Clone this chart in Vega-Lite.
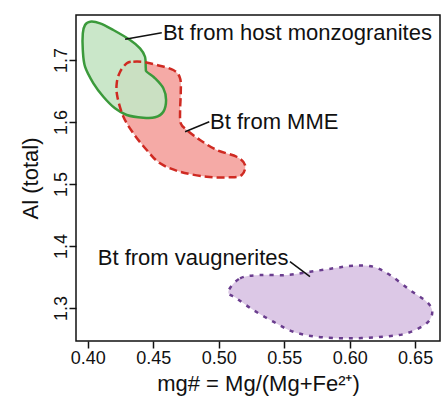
{
  "$schema": "https://vega.github.io/schema/vega-lite/v6.json",
  "width": 364,
  "height": 326,
  "autosize": "none",
  "padding": {"left": 76, "top": 15, "right": 8, "bottom": 62},
  "config": {
    "font": "Liberation Sans",
    "view": {"stroke": "#111", "strokeWidth": 1.5},
    "axis": {"grid": false, "domain": false, "tickColor": "#111", "tickWidth": 1.5, "tickSize": 7, "labelColor": "#111", "titleColor": "#111", "labelFont": "Liberation Sans", "titleFont": "Liberation Sans", "titleFontWeight": "normal"}
  },
  "datasets": {
    "shapes": [
      {"g": "host", "i": 1, "mg": 0.4018, "al": 1.7618},
      {"g": "host", "i": 2, "mg": 0.4094, "al": 1.7592},
      {"g": "host", "i": 3, "mg": 0.4195, "al": 1.7484},
      {"g": "host", "i": 4, "mg": 0.4323, "al": 1.7323},
      {"g": "host", "i": 5, "mg": 0.4399, "al": 1.7189},
      {"g": "host", "i": 6, "mg": 0.4437, "al": 1.7053},
      {"g": "host", "i": 7, "mg": 0.4443, "al": 1.6866},
      {"g": "host", "i": 8, "mg": 0.4450, "al": 1.6811},
      {"g": "host", "i": 9, "mg": 0.4514, "al": 1.6705},
      {"g": "host", "i": 10, "mg": 0.4577, "al": 1.6544},
      {"g": "host", "i": 11, "mg": 0.4598, "al": 1.6355},
      {"g": "host", "i": 12, "mg": 0.4577, "al": 1.6166},
      {"g": "host", "i": 13, "mg": 0.4514, "al": 1.6076},
      {"g": "host", "i": 14, "mg": 0.4424, "al": 1.6069},
      {"g": "host", "i": 15, "mg": 0.4298, "al": 1.6113},
      {"g": "host", "i": 16, "mg": 0.4208, "al": 1.6221},
      {"g": "host", "i": 17, "mg": 0.4119, "al": 1.6408},
      {"g": "host", "i": 18, "mg": 0.4043, "al": 1.6624},
      {"g": "host", "i": 19, "mg": 0.3979, "al": 1.6892},
      {"g": "host", "i": 20, "mg": 0.3962, "al": 1.7161},
      {"g": "host", "i": 21, "mg": 0.3962, "al": 1.7431},
      {"g": "host", "i": 22, "mg": 0.3979, "al": 1.7565},
      {"g": "mme", "i": 1, "mg": 0.4298, "al": 1.6947},
      {"g": "mme", "i": 2, "mg": 0.4348, "al": 1.6973},
      {"g": "mme", "i": 3, "mg": 0.4424, "al": 1.6968},
      {"g": "mme", "i": 4, "mg": 0.4527, "al": 1.6919},
      {"g": "mme", "i": 5, "mg": 0.4653, "al": 1.6839},
      {"g": "mme", "i": 6, "mg": 0.4705, "al": 1.6705},
      {"g": "mme", "i": 7, "mg": 0.4710, "al": 1.6463},
      {"g": "mme", "i": 8, "mg": 0.4705, "al": 1.6194},
      {"g": "mme", "i": 9, "mg": 0.4710, "al": 1.5979},
      {"g": "mme", "i": 10, "mg": 0.4756, "al": 1.5871},
      {"g": "mme", "i": 11, "mg": 0.4857, "al": 1.5710},
      {"g": "mme", "i": 12, "mg": 0.4985, "al": 1.5548},
      {"g": "mme", "i": 13, "mg": 0.5137, "al": 1.5440},
      {"g": "mme", "i": 14, "mg": 0.5201, "al": 1.5306},
      {"g": "mme", "i": 15, "mg": 0.5176, "al": 1.5145},
      {"g": "mme", "i": 16, "mg": 0.5086, "al": 1.5108},
      {"g": "mme", "i": 17, "mg": 0.4908, "al": 1.5118},
      {"g": "mme", "i": 18, "mg": 0.4705, "al": 1.5198},
      {"g": "mme", "i": 19, "mg": 0.4552, "al": 1.5334},
      {"g": "mme", "i": 20, "mg": 0.4450, "al": 1.5548},
      {"g": "mme", "i": 21, "mg": 0.4348, "al": 1.5818},
      {"g": "mme", "i": 22, "mg": 0.4272, "al": 1.6085},
      {"g": "mme", "i": 23, "mg": 0.4226, "al": 1.6408},
      {"g": "mme", "i": 24, "mg": 0.4221, "al": 1.6624},
      {"g": "mme", "i": 25, "mg": 0.4247, "al": 1.6811},
      {"g": "vaug", "i": 1, "mg": 0.5073, "al": 1.3263},
      {"g": "vaug", "i": 2, "mg": 0.5163, "al": 1.3479},
      {"g": "vaug", "i": 3, "mg": 0.5315, "al": 1.3532},
      {"g": "vaug", "i": 4, "mg": 0.5519, "al": 1.3532},
      {"g": "vaug", "i": 5, "mg": 0.5697, "al": 1.3585},
      {"g": "vaug", "i": 6, "mg": 0.5875, "al": 1.3640},
      {"g": "vaug", "i": 7, "mg": 0.6027, "al": 1.3682},
      {"g": "vaug", "i": 8, "mg": 0.6180, "al": 1.3666},
      {"g": "vaug", "i": 9, "mg": 0.6308, "al": 1.3532},
      {"g": "vaug", "i": 10, "mg": 0.6460, "al": 1.3290},
      {"g": "vaug", "i": 11, "mg": 0.6588, "al": 1.3102},
      {"g": "vaug", "i": 12, "mg": 0.6631, "al": 1.2940},
      {"g": "vaug", "i": 13, "mg": 0.6588, "al": 1.2753},
      {"g": "vaug", "i": 14, "mg": 0.6435, "al": 1.2592},
      {"g": "vaug", "i": 15, "mg": 0.6256, "al": 1.2537},
      {"g": "vaug", "i": 16, "mg": 0.6002, "al": 1.2511},
      {"g": "vaug", "i": 17, "mg": 0.5748, "al": 1.2537},
      {"g": "vaug", "i": 18, "mg": 0.5569, "al": 1.2618},
      {"g": "vaug", "i": 19, "mg": 0.5417, "al": 1.2779},
      {"g": "vaug", "i": 20, "mg": 0.5264, "al": 1.2968},
      {"g": "vaug", "i": 21, "mg": 0.5137, "al": 1.3156}
    ],
    "labels": [
      {"label": "Bt from host monzogranites", "tx": 0.4574, "ty": 1.7435, "lx": 0.4285, "ly": 1.7334, "lx2": 0.4565, "ly2": 1.7440},
      {"label": "Bt from MME", "tx": 0.4934, "ty": 1.5995, "lx": 0.4743, "ly": 1.5844, "lx2": 0.4928, "ly2": 1.6005},
      {"label": "Bt from vaugnerites", "tx": 0.4076, "ty": 1.3802, "lx": 0.5544, "ly": 1.3747, "lx2": 0.5697, "ly2": 1.3505}
    ]
  },
  "layer": [
    {
      "data": {"name": "shapes"},
      "transform": [{"filter": "datum.g === 'mme'"}],
      "mark": {"type": "line", "interpolate": "cardinal-closed", "fill": "#f5aaa6", "stroke": "transparent", "strokeWidth": 0, "clip": true},
      "encoding": {
        "x": {"field": "mg", "type": "quantitative", "scale": {"domain": [0.391, 0.669], "nice": false, "zero": false}, "axis": {"values": [0.4, 0.45, 0.5, 0.55, 0.6, 0.65], "format": ".2f", "labelFontSize": 18, "labelPadding": 1, "title": "mg# = Mg/(Mg+Fe²⁺)", "titleFontSize": 22, "titlePadding": 6}},
        "y": {"field": "al", "type": "quantitative", "scale": {"domain": [1.2468, 1.7726], "nice": false, "zero": false}, "axis": {"values": [1.3, 1.4, 1.5, 1.6, 1.7], "format": ".1f", "labelFontSize": 18, "labelAngle": -90, "labelAlign": "center", "labelBaseline": "bottom", "labelPadding": -1, "title": "Al (total)", "titleFontSize": 22, "titlePadding": 10}},
        "order": {"field": "i", "type": "quantitative"}
      }
    },
    {
      "data": {"name": "shapes"},
      "transform": [{"filter": "datum.g === 'host'"}],
      "mark": {"type": "line", "interpolate": "cardinal-closed", "fill": "#c6e5c4", "stroke": "#3b9a3b", "strokeWidth": 2.5, "fillOpacity": 0.92, "clip": true},
      "encoding": {
        "x": {"field": "mg", "type": "quantitative"},
        "y": {"field": "al", "type": "quantitative"},
        "order": {"field": "i", "type": "quantitative"}
      }
    },
    {
      "data": {"name": "shapes"},
      "transform": [{"filter": "datum.g === 'mme'"}],
      "mark": {"type": "line", "interpolate": "cardinal-closed", "fill": "none", "stroke": "#cf2a22", "strokeWidth": 2.5, "strokeDash": [8, 4], "clip": true},
      "encoding": {
        "x": {"field": "mg", "type": "quantitative"},
        "y": {"field": "al", "type": "quantitative"},
        "order": {"field": "i", "type": "quantitative"}
      }
    },
    {
      "data": {"name": "shapes"},
      "transform": [{"filter": "datum.g === 'vaug'"}],
      "mark": {"type": "line", "interpolate": "cardinal-closed", "fill": "#dcc8e6", "stroke": "#6a3d8e", "strokeWidth": 2.5, "strokeDash": [4, 6], "clip": true},
      "encoding": {
        "x": {"field": "mg", "type": "quantitative"},
        "y": {"field": "al", "type": "quantitative"},
        "order": {"field": "i", "type": "quantitative"}
      }
    },
    {
      "data": {"name": "labels"},
      "mark": {"type": "rule", "color": "#111", "strokeWidth": 1.5},
      "encoding": {
        "x": {"field": "lx", "type": "quantitative"},
        "y": {"field": "ly", "type": "quantitative"},
        "x2": {"field": "lx2"},
        "y2": {"field": "ly2"}
      }
    },
    {
      "data": {"name": "labels"},
      "mark": {"type": "text", "align": "left", "baseline": "middle", "fontSize": 22, "font": "Liberation Sans", "color": "#111"},
      "encoding": {
        "x": {"field": "tx", "type": "quantitative"},
        "y": {"field": "ty", "type": "quantitative"},
        "text": {"field": "label"}
      }
    }
  ]
}
